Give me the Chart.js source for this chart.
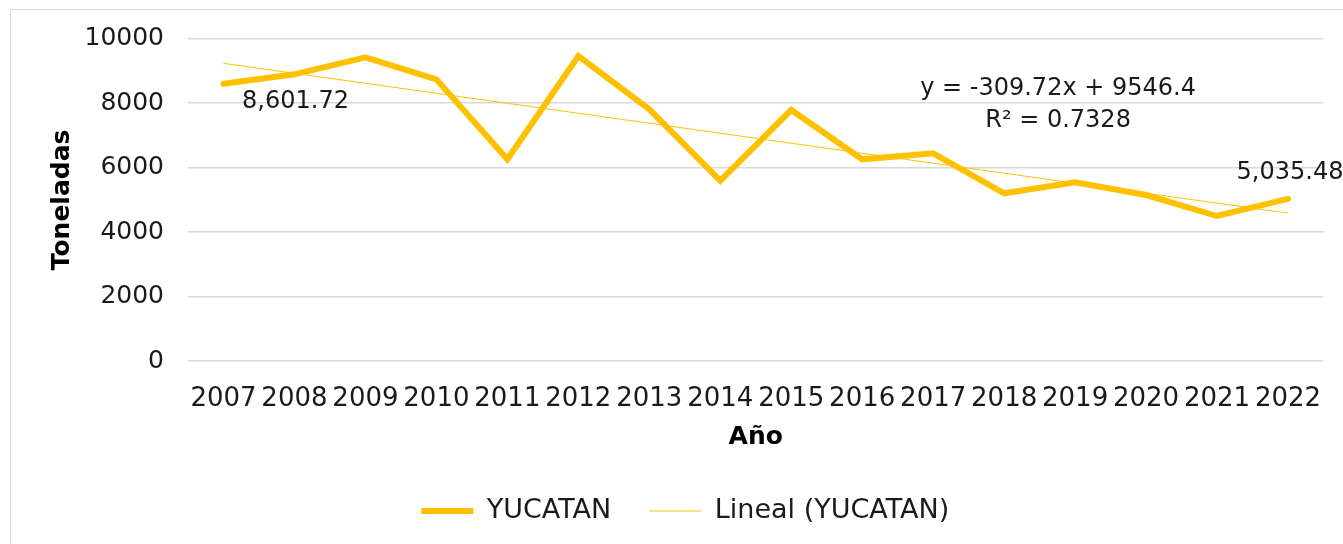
<!DOCTYPE html>
<html>
<head>
<meta charset="utf-8">
<script src="https://cdn.jsdelivr.net/npm/chart.js@4.4.1/dist/chart.umd.min.js"></script>
<style>
  html, body { margin: 0; padding: 0; background: #fff; overflow: hidden; }
  #frame {
    position: absolute; left: 10px; top: 9px;
    width: 1345px; height: 545px;
    border: 1px solid #d9d9d9; box-sizing: border-box;
  }
  #wrap { position: absolute; left: 0; top: 0; width: 1333px; height: 535px; }
</style>
</head>
<body>
<div id="frame"><div id="wrap"><canvas id="yucatanChart"></canvas></div></div>
<script>
// años
const years = ['2007', '2008', '2009', '2010', '2011', '2012', '2013', '2014',
               '2015', '2016', '2017', '2018', '2019', '2020', '2021', '2022'];

// toneladas, YUCATAN
const yucatan = [8601.72, 8896, 9423, 8741, 6260, 9464, 7811, 5597,
                 7789, 6260, 6446, 5206, 5547, 5153, 4502, 5035.48];

// lineal (YUCATAN), y = -309.72x + 9546.4
const lineal = [9236.68, 8926.96, 8617.24, 8307.52, 7997.80, 7688.08, 7378.36, 7068.64,
                6758.92, 6449.20, 6139.48, 5829.76, 5520.04, 5210.32, 4900.60, 4590.88];

const yTicks = [0, 2000, 4000, 6000, 8000, 10000];

const FONT = 'DejaVu Sans';
const YELLOW = '#FFC000';

function fmt(v) {
    return v.toLocaleString('en-US', { minimumFractionDigits: 2 });
}

// etiquetas de datos y ecuacion de tendencia
const labelsPlugin = {
    id: 'labelsPlugin',
    afterLayout(chart) {
        // la leyenda de Excel queda un poco a la derecha
        chart.legend.left += 18;
        chart.legend.right += 18;
    },
    afterDatasetsDraw(chart) {
        const ctx = chart.ctx;
        const meta = chart.getDatasetMeta(0);
        const xs = chart.scales.x;
        const ys = chart.scales.y;
        ctx.save();
        ctx.fillStyle = '#1a1a1a';
        ctx.font = '24px "' + FONT + '"';
        ctx.textAlign = 'center';
        ctx.textBaseline = 'middle';

        const first = meta.data[0];
        ctx.fillText(fmt(yucatan[0]), first.x + 72, first.y + 18);

        const last = meta.data[meta.data.length - 1];
        ctx.fillText(fmt(yucatan[yucatan.length - 1]), last.x + 2, last.y - 26);

        const ex = xs.getPixelForValue(11.76);
        ctx.fillText('y = -309.72x + 9546.4', ex, ys.getPixelForValue(8440));
        ctx.fillText('R² = 0.7328', ex, ys.getPixelForValue(7450));
        ctx.restore();
    }
};

const ctx = document.getElementById('yucatanChart').getContext('2d');
const chart = new Chart(ctx, {
    type: 'line',
    data: {
        labels: years,
        datasets: [{
            label: 'YUCATAN',
            data: yucatan,
            borderColor: YELLOW,
            backgroundColor: YELLOW,
            borderWidth: 6,
            borderCapStyle: 'round',
            pointRadius: 0,
            tension: 0
        }, {
            label: 'Lineal (YUCATAN)',
            data: lineal,
            borderColor: YELLOW,
            backgroundColor: YELLOW,
            borderWidth: 1,
            pointRadius: 0,
            tension: 0
        }]
    },
    options: {
        responsive: true,
        maintainAspectRatio: false,
        animation: false,
        layout: { padding: { top: 28.7, right: 20.5, left: 0, bottom: 10.5 } },
        plugins: {
            tooltip: { enabled: false },
            legend: {
                position: 'bottom',
                labels: {
                    usePointStyle: true,
                    pointStyle: 'line',
                    pointStyleWidth: 52,
                    padding: 38,
                    color: '#1a1a1a',
                    font: { family: FONT, size: 27 }
                }
            }
        },
        scales: {
            x: {
                offset: true,
                grid: { display: false },
                border: { display: false },
                ticks: {
                    autoSkip: false,
                    maxRotation: 0,
                    padding: 14,
                    color: '#1a1a1a',
                    font: { family: FONT, size: 26 }
                },
                title: {
                    display: true,
                    text: 'Año',
                    color: '#000',
                    padding: { top: 0, bottom: 7.5 },
                    font: { family: FONT, size: 25, weight: 'bold' }
                },
                afterFit(scale) { scale.height = 98.3; }
            },
            y: {
                min: 0,
                max: 10000,
                afterBuildTicks(scale) { scale.ticks = yTicks.map(v => ({ value: v })); },
                grid: { color: '#d9d9d9', lineWidth: 1.5, drawTicks: false },
                border: { display: false },
                ticks: {
                    padding: 24,
                    color: '#1a1a1a',
                    font: { family: FONT, size: 25 },
                    callback: v => String(v)
                },
                title: {
                    display: true,
                    text: 'Toneladas',
                    color: '#000',
                    padding: { top: 36, bottom: 0 },
                    font: { family: FONT, size: 25, weight: 'bold' }
                },
                afterFit(scale) {
                    scale.width = 177;
                    scale.paddingTop = 0;
                    scale.paddingBottom = 0;
                }
            }
        }
    },
    plugins: [labelsPlugin]
});
</script>
</body>
</html>
